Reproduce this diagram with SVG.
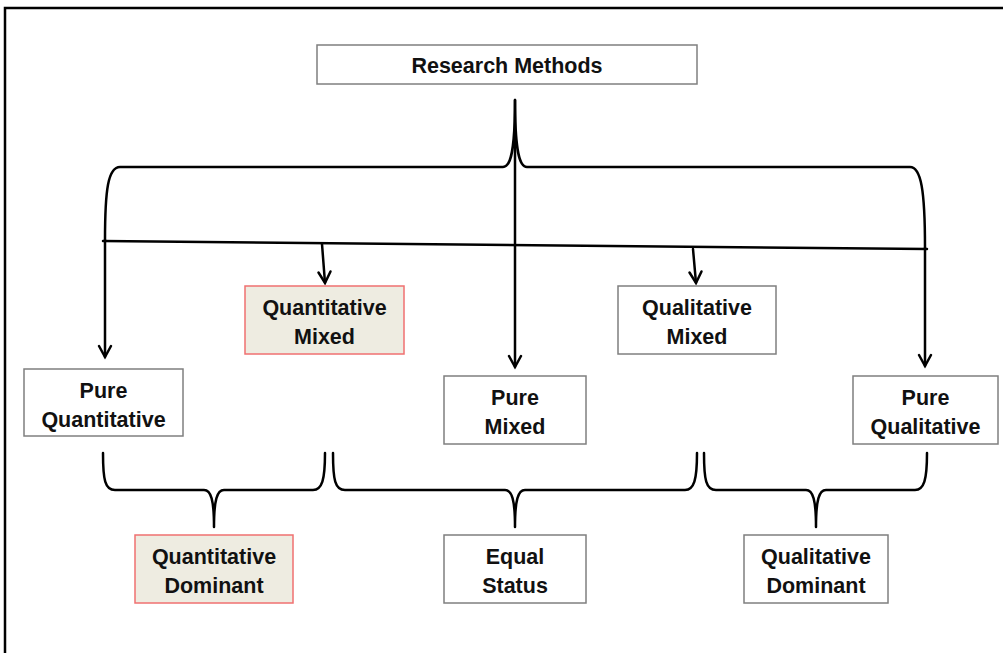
<svg xmlns="http://www.w3.org/2000/svg" width="1003" height="653" viewBox="0 0 1003 653">
<defs>
<style>
.box{fill:#ffffff;stroke:#7f7f7f;stroke-width:1.5}
.hl{fill:#eeece1;stroke:#f07070;stroke-width:1.5}
.t{font-family:"Liberation Sans",Arial,sans-serif;font-weight:bold;font-size:21.5px;fill:#111;text-anchor:middle}
.ln{fill:none;stroke:#000;stroke-width:2.5;stroke-linecap:round;stroke-linejoin:round}
.ah{fill:none;stroke:#000;stroke-width:2.5;stroke-linecap:round;stroke-linejoin:miter}
</style>
</defs>
<rect x="5" y="8" width="1010" height="660" fill="#fff" stroke="#000" stroke-width="2.5"/>
<g id="connectors">
<path class="ln" d="M105,240 C105,190 108,167 120,167 L503,167 C511,167 515,150 515,100 C515,150 519,167 527,167 L910,167 C921,167 925,190 925,248"/>
<path class="ln" d="M103,241 L927,249"/>
<path class="ln" d="M105,240 L105,357"/>
<path class="ah" d="M99,346 L105,357 L111,346"/>
<path class="ln" d="M515,100 L515,367"/>
<path class="ah" d="M509,356 L515,367 L521,356"/>
<path class="ln" d="M925,248 L925,366"/>
<path class="ah" d="M919,355 L925,366 L931,355"/>
<path class="ln" d="M322,244 L325,283"/>
<path class="ah" d="M318.5,272.5 L325,283 L330.5,271.5"/>
<path class="ln" d="M693,249 L696,283"/>
<path class="ah" d="M689.5,272.5 L696,283 L701.5,271.5"/>
<path class="ln" d="M103,453 C103,480 105,490 115,490 L204,490 C211,490 214,500 214,527 C214,500 217,490 224,490 L313,490 C322,490 325,480 325,453"/>
<path class="ln" d="M333,453 C333,480 335,490 345,490 L505,490 C512,490 515,500 515,527 C515,500 518,490 525,490 L685,490 C694,490 697,480 697,453"/>
<path class="ln" d="M704,453 C704,480 706,490 716,490 L806,490 C813,490 816,500 816,527 C816,500 819,490 826,490 L915,490 C924,490 927,480 927,453"/>
</g>
<g id="research-methods">
<rect class="box" x="317" y="45" width="380" height="39"/>
<text class="t" x="507" y="73">Research Methods</text>
</g>
<g id="quantitative-mixed">
<rect class="hl" x="245" y="286" width="159" height="68"/>
<text class="t" x="324.5" y="315">Quantitative</text>
<text class="t" x="324.5" y="344">Mixed</text>
</g>
<g id="qualitative-mixed">
<rect class="box" x="618" y="286" width="158" height="68"/>
<text class="t" x="697" y="315">Qualitative</text>
<text class="t" x="697" y="344">Mixed</text>
</g>
<g id="pure-quantitative">
<rect class="box" x="24" y="369" width="159" height="67"/>
<text class="t" x="103.5" y="398">Pure</text>
<text class="t" x="103.5" y="427">Quantitative</text>
</g>
<g id="pure-mixed">
<rect class="box" x="444" y="376" width="142" height="68"/>
<text class="t" x="515" y="405">Pure</text>
<text class="t" x="515" y="434">Mixed</text>
</g>
<g id="pure-qualitative">
<rect class="box" x="853" y="376" width="145" height="68"/>
<text class="t" x="925.5" y="405">Pure</text>
<text class="t" x="925.5" y="434">Qualitative</text>
</g>
<g id="quantitative-dominant">
<rect class="hl" x="135" y="535" width="158" height="68"/>
<text class="t" x="214" y="564">Quantitative</text>
<text class="t" x="214" y="593">Dominant</text>
</g>
<g id="equal-status">
<rect class="box" x="444" y="535" width="142" height="68"/>
<text class="t" x="515" y="564">Equal</text>
<text class="t" x="515" y="593">Status</text>
</g>
<g id="qualitative-dominant">
<rect class="box" x="744" y="535" width="144" height="68"/>
<text class="t" x="816" y="564">Qualitative</text>
<text class="t" x="816" y="593">Dominant</text>
</g>
</svg>
